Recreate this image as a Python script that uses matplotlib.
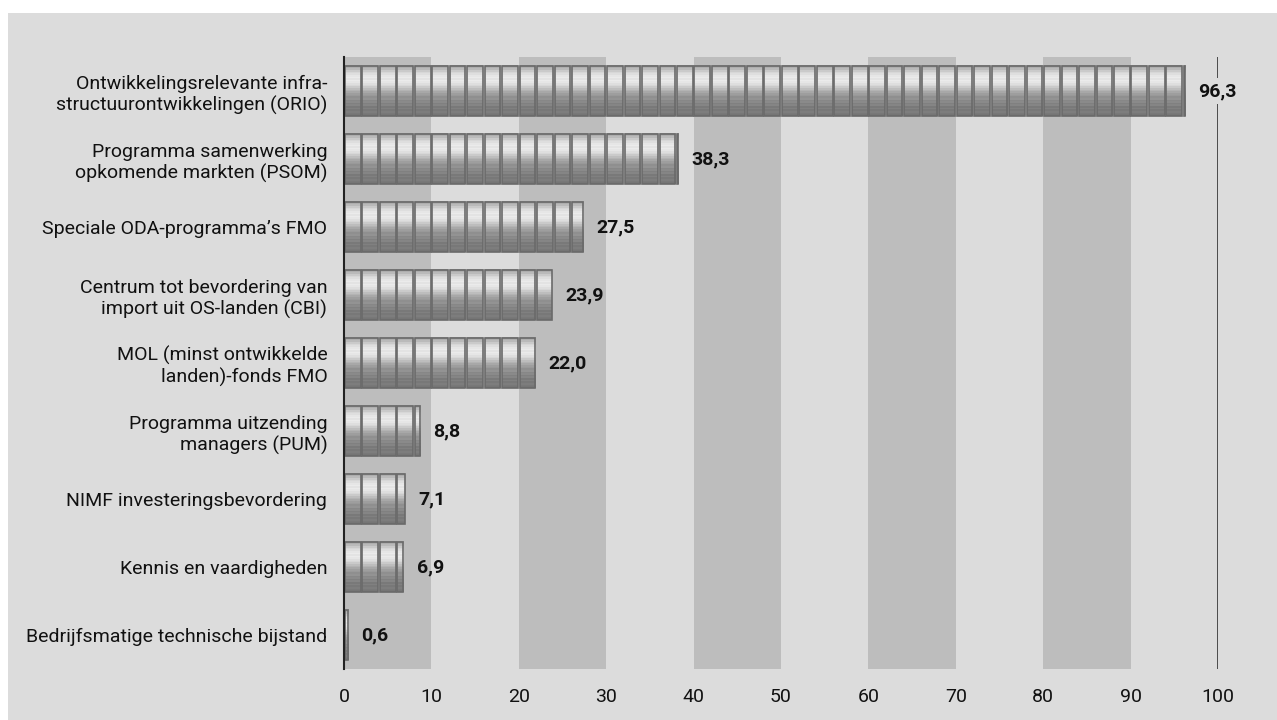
import numpy as np
import matplotlib
matplotlib.use("Agg")
import matplotlib.pyplot as plt
from matplotlib.patches import Rectangle

plt.rcParams['font.family'] = ['Roboto', 'DejaVu Sans']

labels = [
    "Ontwikkelingsrelevante infra-\nstructuurontwikkelingen (ORIO)",
    "Programma samenwerking\nopkomende markten (PSOM)",
    "Speciale ODA-programma\u2019s FMO",
    "Centrum tot bevordering van\nimport uit OS-landen (CBI)",
    "MOL (minst ontwikkelde\nlanden)-fonds FMO",
    "Programma uitzending\nmanagers (PUM)",
    "NIMF investeringsbevordering",
    "Kennis en vaardigheden",
    "Bedrijfsmatige technische bijstand",
]
values = [96.3, 38.3, 27.5, 23.9, 22.0, 8.8, 7.1, 6.9, 0.6]
value_labels = ["96,3", "38,3", "27,5", "23,9", "22,0", "8,8", "7,1", "6,9", "0,6"]
xticks = list(range(0, 101, 10))

bg = '#dcdcdc'
band = '#bdbdbd'

fig = plt.figure(figsize=(12.77, 7.2), dpi=100)
fig.patch.set_facecolor('white')
# grey page panel
fig.patches.append(Rectangle((8 / 1277, 0), 1, 1 - 13 / 720, transform=fig.transFigure,
                             facecolor=bg, edgecolor='none', zorder=-5))

ax = fig.add_axes([344 / 1277, 51 / 720, 874 / 1277, 612 / 720])
ax.patch.set_alpha(0)

# alternating bands
for start in range(0, 100, 20):
    ax.axvspan(start, start + 10, color=band, zorder=0, lw=0)

# coin gradient profile (top to bottom), with fine stripes
prof = np.array([0.64, 0.68, 0.73, 0.79, 0.84, 0.87, 0.90, 0.92, 0.89, 0.92, 0.90,
                 0.87, 0.84, 0.79, 0.74, 0.70, 0.66, 0.62, 0.60, 0.56, 0.58, 0.53,
                 0.54, 0.50, 0.52, 0.48, 0.50, 0.47, 0.49, 0.47, 0.46])
grad = np.tile(prof[:, None], (1, 4))

h = 0.74
coin = 2.0
for i, v in enumerate(values):
    y0, y1 = i - h / 2, i + h / 2
    n = int(np.ceil(v / coin - 1e-9))
    for k in range(n):
        x0 = k * coin
        x1 = min(x0 + coin, v)
        w = x1 - x0
        ax.imshow(grad, cmap='gray', vmin=0, vmax=1, aspect='auto',
                  extent=(x0 + 0.1, x1 - 0.1 if w > 0.3 else x1, y1, y0),
                  interpolation='nearest', zorder=2)
        ax.add_patch(Rectangle((x0 + 0.1, y0), max(w - 0.2, 0.1), h, facecolor='none',
                               edgecolor='#6a6a6a', lw=1.2, zorder=3))
    ax.text(v + 1.4, i, value_labels[i], ha='left', va='center', fontsize=14,
            fontweight='bold', color='#111111', zorder=5,
            bbox=dict(facecolor=bg, edgecolor='none', pad=3) if v > 90 else None)

# restore limits after imshow
ax.set_xlim(0, 100)
ax.set_ylim(len(values) - 0.5, -0.5)

# line at 100
ax.axvline(100, color='#333333', lw=1.2, zorder=1)

ax.set_yticks(range(len(labels)))
ax.set_yticklabels(labels, fontsize=14, color='#111111', linespacing=1.2)
ax.set_xticks(xticks)
ax.set_xticklabels([str(t) for t in xticks], fontsize=14, color='#111111')
ax.tick_params(axis='both', length=0)
ax.tick_params(axis='y', pad=12)
ax.tick_params(axis='x', pad=14)
for s in ['top', 'right', 'bottom']:
    ax.spines[s].set_visible(False)
ax.spines['left'].set_color('#222222')
ax.spines['left'].set_linewidth(1.5)
ax.spines['left'].set_zorder(6)

fig.savefig('out.png', dpi=100, facecolor=fig.get_facecolor())
